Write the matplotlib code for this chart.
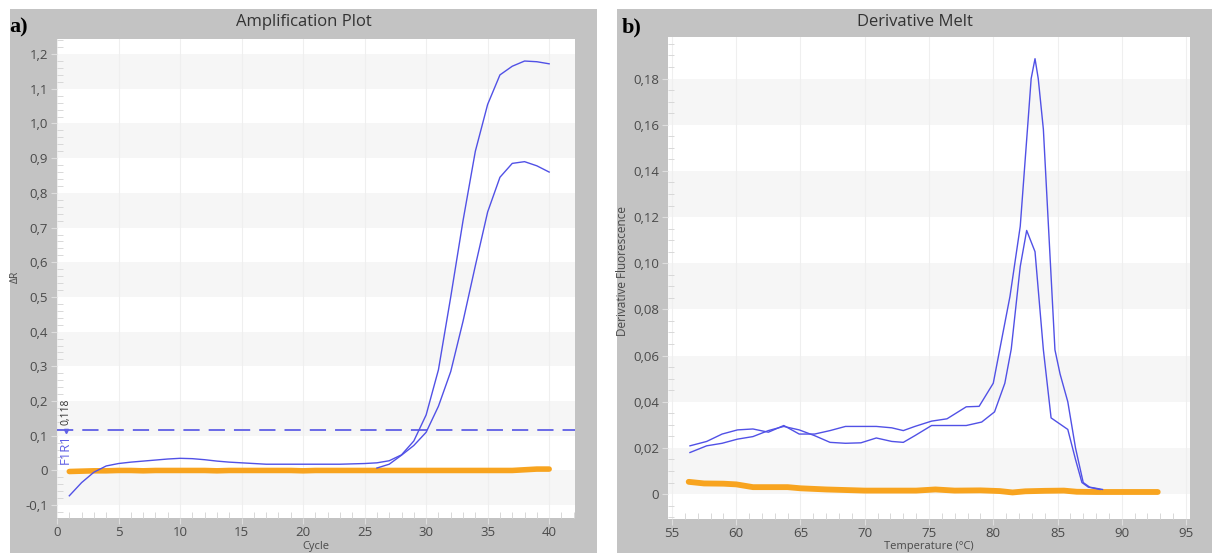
import matplotlib
matplotlib.use("Agg")
import matplotlib.pyplot as plt
from matplotlib.patches import Rectangle
from matplotlib.ticker import MultipleLocator

plt.rcParams['font.family'] = ['Open Sans', 'DejaVu Sans']

# ---------------- data ----------------
# a) Amplification plot
cycles = list(range(1, 41))
amp_high = [-0.073, -0.035, -0.005, 0.013, 0.020, 0.024, 0.027, 0.030, 0.033, 0.035,
            0.034, 0.031, 0.027, 0.024, 0.022, 0.020, 0.018, 0.018, 0.018, 0.018,
            0.018, 0.018, 0.018, 0.019, 0.020, 0.022, 0.028, 0.045, 0.085, 0.160,
            0.290, 0.500, 0.720, 0.920, 1.055, 1.140, 1.165, 1.180, 1.178, 1.172]
amp_low_cycles = list(range(26, 41))
amp_low = [0.007, 0.018, 0.044, 0.072, 0.110, 0.185, 0.285, 0.430, 0.590, 0.745,
           0.845, 0.885, 0.890, 0.878, 0.860]
amp_ntc = [-0.003, -0.002, -0.001, -0.001, 0.000, 0.000, -0.001, 0.000, 0.000, 0.000,
           0.000, 0.000, -0.001, 0.000, 0.000, 0.000, 0.000, 0.000, 0.000, -0.001,
           0.000, 0.000, 0.000, 0.000, 0.000, 0.000, 0.000, 0.000, 0.000, 0.000,
           0.000, 0.000, 0.000, 0.000, 0.000, 0.000, 0.000, 0.002, 0.004, 0.004]
threshold = 0.118
threshold_name = "F1R1"
threshold_text = "0,118"

amp_xticks = [0, 5, 10, 15, 20, 25, 30, 35, 40]
amp_yticks = [-0.1, 0.0, 0.1, 0.2, 0.3, 0.4, 0.5, 0.6, 0.7, 0.8, 0.9, 1.0, 1.1, 1.2]
amp_ylabels = ["-0,1", "0", "0,1", "0,2", "0,3", "0,4", "0,5", "0,6", "0,7", "0,8",
               "0,9", "1,0", "1,1", "1,2"]

# b) Derivative melt
melt_t_high = [56.4, 57.7, 58.9, 60.1, 61.3, 62.5, 63.7, 64.9, 66.1, 67.3, 68.5, 69.7,
               70.9, 72.1, 73.0, 73.9, 75.2, 76.4, 77.9, 78.9, 80.0, 80.5, 81.3, 82.1,
               82.7, 82.95, 83.25, 83.5, 83.9, 84.8, 85.2, 85.8, 86.4, 87.0, 87.5, 88.5]
melt_high = [0.0209, 0.0228, 0.0260, 0.0278, 0.0282, 0.0268, 0.0297, 0.0260, 0.0260,
             0.0275, 0.0293, 0.0293, 0.0293, 0.0287, 0.0275, 0.0293, 0.0316, 0.0326,
             0.0378, 0.0380, 0.0480, 0.0625, 0.0856, 0.1160, 0.1610, 0.1800, 0.1886,
             0.1800, 0.1580, 0.0625, 0.0520, 0.0400, 0.0200, 0.0050, 0.0030, 0.0020]
melt_t_low = [56.4, 57.7, 58.9, 60.1, 61.3, 62.5, 63.7, 64.9, 66.1, 67.3, 68.5, 69.7,
              70.9, 72.1, 73.0, 73.9, 75.2, 76.4, 77.9, 79.1, 80.1, 80.9, 81.4, 82.1,
              82.6, 83.25, 83.9, 84.5, 85.8, 86.4, 86.9, 87.4, 88.3]
melt_low = [0.0180, 0.0209, 0.0220, 0.0238, 0.0249, 0.0275, 0.0293, 0.0278, 0.0253,
            0.0224, 0.0220, 0.0222, 0.0243, 0.0228, 0.0224, 0.0253, 0.0297, 0.0297,
            0.0297, 0.0312, 0.0356, 0.0480, 0.0628, 0.0986, 0.1142, 0.1050, 0.0625,
            0.0330, 0.0280, 0.0150, 0.0050, 0.0030, 0.0020]
melt_t_ntc = [56.3, 57.5, 59.0, 60.0, 61.3, 62.0, 64.0, 65.0, 67.0, 70.0, 72.0, 74.0,
              75.5, 77.0, 79.0, 80.5, 81.5, 82.5, 84.0, 85.5, 86.5, 88.0, 90.0, 92.8]
melt_ntc = [0.0053, 0.0046, 0.0045, 0.0042, 0.0030, 0.0030, 0.0030, 0.0025, 0.0020,
            0.0015, 0.0015, 0.0015, 0.0020, 0.0015, 0.0016, 0.0013, 0.0007, 0.0012,
            0.0014, 0.0015, 0.0010, 0.0009, 0.0009, 0.0009]

melt_xticks = [55, 60, 65, 70, 75, 80, 85, 90, 95]
melt_yticks = [0.0, 0.02, 0.04, 0.06, 0.08, 0.10, 0.12, 0.14, 0.16, 0.18]
melt_ylabels = ["0", "0,02", "0,04", "0,06", "0,08", "0,10", "0,12", "0,14", "0,16", "0,18"]

# ---------------- style ----------------
W, H = 1212, 553
FRAME = "#c3c3c3"
BAND = "#f6f6f6"
BLUE = "#5151e6"
THR_BLUE = "#5f5fe6"
ORANGE = "#f8a41f"
TXT = "#4a4a4a"

fig = plt.figure(figsize=(W / 100, H / 100), dpi=100)
fig.patch.set_facecolor("white")

# grey window frames
for x0, x1 in [(10, 597), (617, 1212)]:
    fig.patches.append(Rectangle((x0 / W, 0), (x1 - x0) / W, 1 - 9 / H,
                                 transform=fig.transFigure, facecolor=FRAME,
                                 edgecolor="none", zorder=-5))


def make_axes(px_left, px_right, px_top, px_bottom):
    return fig.add_axes([px_left / W, 1 - px_bottom / H,
                         (px_right - px_left) / W, (px_bottom - px_top) / H])


def style_axes(ax, yticks, ylabels, xticks, xminor, yminor):
    ax.set_facecolor("white")
    for s in ax.spines.values():
        s.set_visible(False)
    for i in range(0, len(yticks) - 1, 2):
        ax.axhspan(yticks[i], yticks[i + 1], color=BAND, lw=0, zorder=0)
    ax.set_xticks(xticks)
    ax.set_yticks(yticks)
    ax.set_yticklabels(ylabels)
    ax.xaxis.set_minor_locator(MultipleLocator(xminor))
    ax.yaxis.set_minor_locator(MultipleLocator(yminor))
    ax.xaxis.grid(True, which="major", color="#efefef", lw=0.8)
    ax.set_axisbelow(True)
    ax.tick_params(which="major", length=4, width=0.8, color="#dedede",
                   labelcolor=TXT, labelsize=9.5)
    ax.tick_params(axis="y", which="major", pad=2.5)
    ax.tick_params(axis="x", which="major", pad=2.0)
    ax.tick_params(which="minor", direction="in", length=4.5, width=0.7,
                   color="#d8d8d8")


# ---- a) amplification
ax1 = make_axes(57, 575, 39, 518)
style_axes(ax1, amp_yticks, amp_ylabels, amp_xticks, 1, 0.02)
ax1.set_xlim(0, 42.1)
ax1.set_ylim(-0.137, 1.2435)
ax1.axhline(threshold, color=THR_BLUE, lw=1.3, ls=(0, (9, 5)), zorder=3)
ax1.plot(cycles, amp_ntc, color=ORANGE, lw=4.0, solid_capstyle="round", zorder=4)
ax1.plot(cycles, amp_high, color=BLUE, lw=1.0, zorder=5)
ax1.plot(amp_low_cycles, amp_low, color=BLUE, lw=1.0, zorder=5)
ax1.text(0.7, threshold - 0.012, threshold_name, rotation=90, ha="center", va="top",
         color=THR_BLUE, fontsize=9.5, zorder=6)
ax1.text(0.75, threshold + 0.014, threshold_text, rotation=90, ha="center", va="bottom",
         color="#333333", fontsize=7.5, zorder=6)
ax1.plot([0.72], [threshold - 0.005], marker="v", ms=3, color=THR_BLUE, zorder=6)

# ---- b) derivative melt
ax2 = make_axes(668, 1190, 37, 519)
style_axes(ax2, melt_yticks, melt_ylabels, melt_xticks, 1, 0.005)
ax2.set_xlim(54.69, 95.31)
ax2.set_ylim(-0.0108, 0.198)
ax2.plot(melt_t_ntc, melt_ntc, color=ORANGE, lw=4.2, solid_capstyle="round", zorder=4)
ax2.plot(melt_t_high, melt_high, color=BLUE, lw=1.0, zorder=5)
ax2.plot(melt_t_low, melt_low, color=BLUE, lw=1.0, zorder=5)

# ---- window titles, panel letters, axis labels
fig.text(303.5 / W, 1 - 22 / H, "Amplification Plot", ha="center", va="center",
         fontsize=12, color="#333333")
fig.text(914.5 / W, 1 - 22 / H, "Derivative Melt", ha="center", va="center",
         fontsize=12, color="#333333")
fig.text(9 / W, 1 - 27 / H, "a)", ha="left", va="center", fontsize=16,
         fontweight="bold", family="Liberation Serif", color="black")
fig.text(622 / W, 1 - 27 / H, "b)", ha="left", va="center", fontsize=16,
         fontweight="bold", family="Liberation Serif", color="black")
fig.text(15 / W, 1 - 277 / H, "ΔR", rotation=90, ha="center", va="center",
         fontsize=7.5, color=TXT)
fig.text(623 / W, 1 - 271 / H, "Derivative Fluorescence", rotation=90, ha="center",
         va="center", fontsize=8.5, color=TXT)
fig.text(316 / W, 1.5 / H, "Cycle", ha="center", va="bottom", fontsize=8,
         color=TXT)
fig.text(929 / W, 1.5 / H, "Temperature (°C)", ha="center", va="bottom",
         fontsize=8, color=TXT)

fig.savefig("out.png", dpi=100, facecolor="white")
